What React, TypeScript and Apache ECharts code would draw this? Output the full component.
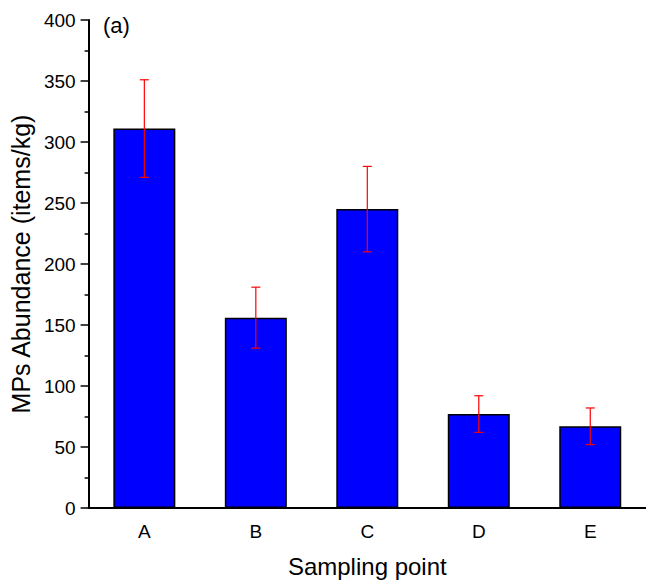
import React, { useEffect, useRef } from "react";
import * as echarts from "echarts";

const categories = ["A", "B", "C", "D", "E"];
const abundance = [311, 156, 245, 77, 67];
const errLow = [271, 131, 210, 62, 52];
const errHigh = [351, 181, 280, 92, 82];
const yTicks = [0, 50, 100, 150, 200, 250, 300, 350, 400];

const FONT = "Liberation Sans, Arial, sans-serif";

export default function App() {
  const ref = useRef<HTMLDivElement>(null);
  useEffect(() => {
    if (!ref.current) return;
    const chart = echarts.init(ref.current, null, { renderer: "svg" });
    const errData = categories.map((_, i) => [i, errLow[i], errHigh[i]]);
    chart.setOption({
      animation: false,
      backgroundColor: "#ffffff",
      textStyle: { fontFamily: FONT },
      grid: { left: 86, top: 20, bottom: 77, right: -3, containLabel: false },
      xAxis: [
        {
          type: "category",
          data: categories,
          name: "Sampling point",
          nameLocation: "middle",
          nameGap: 46,
          nameTextStyle: { color: "#000", fontSize: 24, fontFamily: FONT },
          axisLine: { lineStyle: { color: "#000", width: 2 } },
          axisTick: { alignWithLabel: true, length: 8, lineStyle: { color: "#000", width: 1.5 } },
          axisLabel: { color: "#000", fontSize: 19, margin: 14, fontFamily: FONT },
        },
        {
          type: "category",
          data: categories,
          position: "bottom",
          axisLine: { show: false },
          axisTick: { length: 4, lineStyle: { color: "#000", width: 1.5 } },
          axisLabel: { show: false },
        },
      ],
      yAxis: {
        type: "value",
        min: 0,
        max: yTicks[yTicks.length - 1],
        interval: 50,
        name: "MPs Abundance (items/kg)",
        nameLocation: "middle",
        nameGap: 48,
        nameTextStyle: { color: "#000", fontSize: 25, fontFamily: FONT },
        axisLine: { show: true, lineStyle: { color: "#000", width: 2 } },
        axisTick: { show: true, length: 8, lineStyle: { color: "#000", width: 1.5 } },
        minorTick: { show: true, splitNumber: 2, length: 4, lineStyle: { color: "#000", width: 1.5 } },
        splitLine: { show: false },
        axisLabel: { color: "#000", fontSize: 19, margin: 13, fontFamily: FONT },
      },
      series: [
        {
          type: "bar",
          data: abundance,
          barWidth: 62,
          itemStyle: { color: "#0000ff", borderColor: "#000", borderWidth: 1.5 },
        },
        {
          type: "custom",
          data: errData,
          z: 10,
          renderItem: (params: any, api: any) => {
            const x = api.value(0);
            const lo = api.coord([x, api.value(1)]);
            const hi = api.coord([x, api.value(2)]);
            const hw = 4.5;
            const style = { stroke: "#ff0000", lineWidth: 1.2 };
            return {
              type: "group",
              children: [
                { type: "line", shape: { x1: lo[0], y1: lo[1], x2: hi[0], y2: hi[1] }, style },
                { type: "line", shape: { x1: hi[0] - hw, y1: hi[1], x2: hi[0] + hw, y2: hi[1] }, style },
                { type: "line", shape: { x1: lo[0] - hw, y1: lo[1], x2: lo[0] + hw, y2: lo[1] }, style },
              ],
            };
          },
        },
      ],
      graphic: [
        {
          type: "text",
          left: 103,
          top: 14,
          style: { text: "(a)", fontSize: 22, fill: "#000", fontFamily: FONT },
        },
      ],
    });
    return () => chart.dispose();
  }, []);
  return <div ref={ref} style={{ width: 646, height: 585, position: "absolute", left: 0, top: 0 }} />;
}
